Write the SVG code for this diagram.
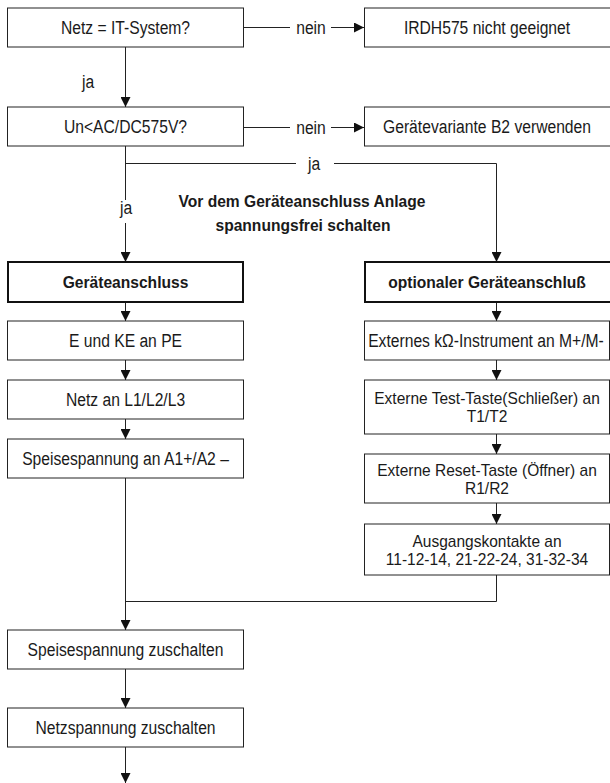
<svg xmlns="http://www.w3.org/2000/svg" width="610" height="783" viewBox="0 0 610 783">
<style>
.box{fill:#fff;stroke:#222;stroke-width:1}
.bold{fill:#fff;stroke:#111;stroke-width:2}
.t{font-family:"Liberation Sans",Arial,sans-serif;font-size:18px;fill:#1a1a1a;text-anchor:middle}
.t2{font-family:"Liberation Sans",Arial,sans-serif;font-size:16px;fill:#1a1a1a;text-anchor:middle}
.tb{font-family:"Liberation Sans",Arial,sans-serif;font-size:15.6px;font-weight:bold;fill:#1a1a1a;text-anchor:middle}
.c{fill:none;stroke:#222;stroke-width:1}
</style>
<defs>
<marker id="ah" viewBox="0 0 10 10" refX="10" refY="5" markerWidth="10" markerHeight="10" markerUnits="userSpaceOnUse" orient="auto">
<path d="M0,0 L10,5 L0,10 Z" fill="#111"/>
</marker>
</defs>
<rect width="610" height="783" fill="#fff"/>
<g id="connectors">
<path class="c" d="M243.5,27.5 H290"/>
<path class="c" d="M331,27.5 H364" marker-end="url(#ah)"/>
<path class="c" d="M243.5,127.5 H290"/>
<path class="c" d="M331,127.5 H364" marker-end="url(#ah)"/>
<path class="c" d="M125.5,47 V107" marker-end="url(#ah)"/>
<path class="c" d="M125.5,146 V200"/>
<path class="c" d="M125.5,223 V262" marker-end="url(#ah)"/>
<path class="c" d="M125.5,163.5 H296"/>
<path class="c" d="M334,163.5 H496.5 V262" marker-end="url(#ah)"/>
<path class="c" d="M125.5,302 V321" marker-end="url(#ah)"/>
<path class="c" d="M125.5,360 V380" marker-end="url(#ah)"/>
<path class="c" d="M125.5,419 V439" marker-end="url(#ah)"/>
<path class="c" d="M496.5,302 V321" marker-end="url(#ah)"/>
<path class="c" d="M496.5,360 V380" marker-end="url(#ah)"/>
<path class="c" d="M496.5,434 V454" marker-end="url(#ah)"/>
<path class="c" d="M496.5,503 V524" marker-end="url(#ah)"/>
<path class="c" d="M496.5,575 V601.5 H125.5"/>
<path class="c" d="M125.5,478 V630" marker-end="url(#ah)"/>
<path class="c" d="M125.5,669 V708" marker-end="url(#ah)"/>
<path class="c" d="M125.5,747 V783" marker-end="url(#ah)"/>
<text class="t" transform="translate(311,34) scale(0.87,1)">nein</text>
<text class="t" transform="translate(311,134) scale(0.87,1)">nein</text>
<text class="t" transform="translate(88,88) scale(0.87,1)">ja</text>
<text class="t" transform="translate(126,214) scale(0.87,1)">ja</text>
<text class="t" transform="translate(314,170) scale(0.87,1)">ja</text>
</g>
<g id="note">
<text class="tb" x="302" y="207">Vor dem Geräteanschluss Anlage</text>
<text class="tb" x="303" y="231">spannungsfrei schalten</text>
</g>
<g id="n1"><rect class="box" x="7.5" y="8" width="236" height="39"/><text class="t" transform="translate(125.5,34) scale(0.87,1)">Netz = IT-System?</text></g>
<g id="n2"><rect class="box" x="364.5" y="8" width="246" height="39"/><text class="t" transform="translate(487,34) scale(0.87,1)">IRDH575 nicht geeignet</text></g>
<g id="n3"><rect class="box" x="7.5" y="107" width="236" height="39"/><text class="t" transform="translate(125.5,133) scale(0.87,1)">Un&lt;AC/DC575V?</text></g>
<g id="n4"><rect class="box" x="364.5" y="107" width="246" height="39"/><text class="t" transform="translate(487,133) scale(0.87,1)">Gerätevariante B2 verwenden</text></g>
<g id="n5"><rect class="bold" x="8" y="262" width="235" height="40"/><text class="tb" x="125.5" y="288">Geräteanschluss</text></g>
<g id="n6"><rect class="bold" x="365" y="262" width="246" height="40"/><text class="tb" x="487" y="288">optionaler Geräteanschluß</text></g>
<g id="n7"><rect class="box" x="7.5" y="321" width="236" height="39"/><text class="t" transform="translate(125.5,347) scale(0.87,1)">E und KE an PE</text></g>
<g id="n8"><rect class="box" x="7.5" y="380" width="236" height="39"/><text class="t" transform="translate(125.5,406) scale(0.87,1)">Netz an L1/L2/L3</text></g>
<g id="n9"><rect class="box" x="7.5" y="439" width="236" height="39"/><text class="t" transform="translate(125.5,465) scale(0.87,1)">Speisespannung an A1+/A2 –</text></g>
<g id="n10"><rect class="box" x="364.5" y="321" width="245" height="39"/><text class="t" transform="translate(486,347) scale(0.87,1)">Externes kΩ-Instrument an M+/M-</text></g>
<g id="n11"><rect class="box" x="364.5" y="380" width="245" height="54"/><text class="t2" transform="translate(487,404) scale(0.97,1)">Externe Test-Taste(Schließer) an</text><text class="t2" transform="translate(487,422) scale(0.97,1)">T1/T2</text></g>
<g id="n12"><rect class="box" x="364.5" y="454" width="245" height="49"/><text class="t2" transform="translate(487,475.5) scale(0.97,1)">Externe Reset-Taste (Öffner) an</text><text class="t2" transform="translate(487,493.5) scale(0.97,1)">R1/R2</text></g>
<g id="n13"><rect class="box" x="364.5" y="524" width="245" height="51"/><text class="t2" transform="translate(487,546.5) scale(0.97,1)">Ausgangskontakte an</text><text class="t2" transform="translate(487,564.5) scale(0.97,1)">11-12-14, 21-22-24, 31-32-34</text></g>
<g id="n14"><rect class="box" x="7.5" y="630" width="236" height="39"/><text class="t" transform="translate(125.5,656) scale(0.87,1)">Speisespannung zuschalten</text></g>
<g id="n15"><rect class="box" x="7.5" y="708" width="236" height="39"/><text class="t" transform="translate(125.5,734) scale(0.87,1)">Netzspannung zuschalten</text></g>
</svg>
